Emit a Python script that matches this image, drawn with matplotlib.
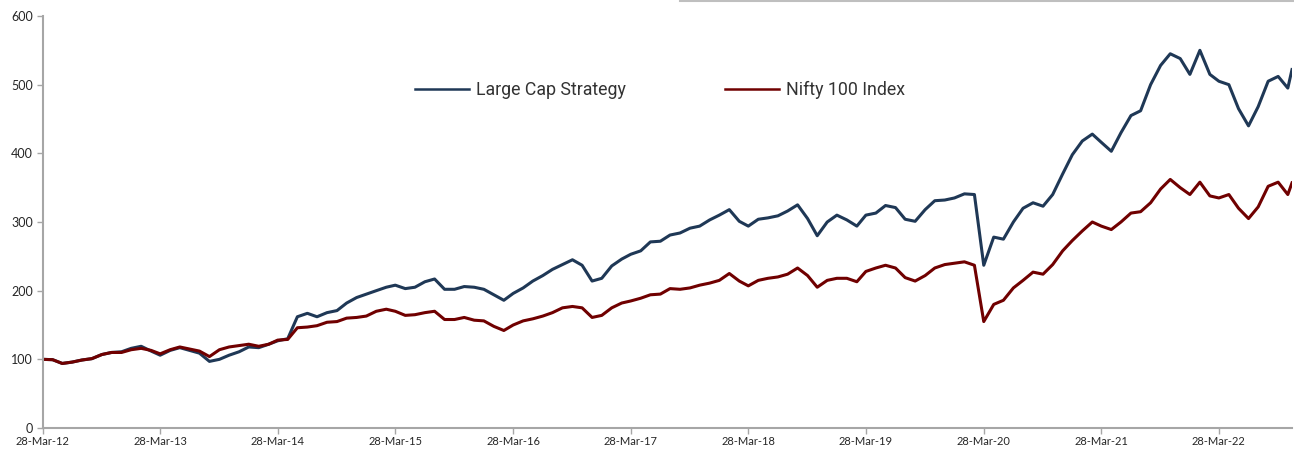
import matplotlib
matplotlib.use('Agg')
import matplotlib.pyplot as plt
import matplotlib.dates as mdates
import pandas as pd
from matplotlib.lines import Line2D

# monthly readings (28th of each month) from 28-Mar-12, last point ~10-Nov-22
start = '2012-03-28'
n_months = 128
last_date = '2022-11-10'

large_cap = [100, 99.5, 94, 96, 99, 101, 107, 110, 111, 116, 119, 112,
             106, 113, 117, 113, 109, 97, 100, 106, 111, 118, 117, 122,
             127, 130, 162, 167, 162, 168, 171, 182, 190, 195, 200, 205,
             208, 203, 205, 213, 217, 202, 202, 206, 205, 202, 194, 186,
             196, 204, 214, 222, 231, 238, 245, 237, 214, 218, 236, 246,
             253, 258, 271, 272, 281, 284, 291, 294, 303, 310, 318, 301,
             294, 304, 306, 309, 316, 325, 305, 280, 300, 310, 303, 294,
             310, 313, 324, 321, 304, 301, 318, 331, 332, 335, 341, 340,
             237, 278, 275, 300, 320, 328, 323, 340, 370, 398, 418, 428,
             416, 403, 430, 455, 462, 500, 528, 545, 538, 515, 550, 515,
             505, 500, 465, 440, 468, 505, 512, 495, 522]

nifty100 = [100, 99.5, 94, 96, 99, 101, 107, 110, 110, 114, 116, 113,
            108, 114, 118, 115, 112, 104, 114, 118, 120, 122, 119, 122,
            128, 129, 146, 147, 149, 154, 155, 160, 161, 163, 170, 173,
            170, 164, 165, 168, 170, 158, 158, 161, 157, 156, 148, 142,
            150, 156, 159, 163, 168, 175, 177, 175, 161, 164, 175, 182,
            185, 189, 194, 195, 203, 202, 204, 208, 211, 215, 225, 214,
            207, 215, 218, 220, 224, 233, 222, 205, 215, 218, 218, 213,
            228, 233, 237, 233, 219, 214, 222, 233, 238, 240, 242, 237,
            155, 180, 186, 204, 215, 227, 224, 238, 258, 273, 287, 300,
            294, 289, 300, 313, 315, 328, 348, 362, 350, 340, 358, 338,
            335, 340, 320, 305, 322, 352, 358, 340, 357]

dates = list(pd.date_range(start, periods=n_months, freq=pd.DateOffset(months=1)))
dates.append(pd.Timestamp(last_date))

tick_dates = pd.date_range(start, periods=11, freq=pd.DateOffset(years=1))

blue = '#1F3856'
red = '#700000'
grey = '#A6A6A6'

fig = plt.figure(figsize=(12.94, 4.5), dpi=100)
ax = fig.add_axes([42.6 / 1294, 22 / 450, (1292 - 42.6) / 1294, (428 - 16) / 450])

ax.plot(dates, large_cap, color=blue, lw=2.2, label='Large Cap Strategy')
ax.plot(dates, nifty100, color=red, lw=2.2, label='Nifty 100 Index')

ax.set_xlim(dates[0], dates[-1])
ax.set_ylim(0, 600)
ax.set_yticks(range(0, 601, 100))
ax.set_xticks(tick_dates)
ax.xaxis.set_major_formatter(mdates.DateFormatter('%d-%b-%y'))

for s in ['top', 'right']:
    ax.spines[s].set_visible(False)
for s in ['left', 'bottom']:
    ax.spines[s].set_color(grey)
    ax.spines[s].set_linewidth(1.5)

ax.tick_params(axis='y', length=4, width=1, color=grey, labelsize=9, pad=3, labelcolor='#262626')
ax.tick_params(axis='x', length=4, width=1, color=grey, labelsize=8, pad=2, labelcolor='#262626')
for lab in ax.get_xticklabels() + ax.get_yticklabels():
    lab.set_family('Lato')

leg = fig.legend(loc='center', bbox_to_anchor=(660 / 1294, 1 - 90 / 450), ncol=2,
                 frameon=False, handlelength=3.0, handletextpad=0.4, columnspacing=5.6,
                 prop={'family': 'Roboto', 'size': 12.8})
for t in leg.get_texts():
    t.set_color('#333333')
for h in leg.get_lines():
    h.set_linewidth(1.8)

# thin grey rule along the top edge
fig.add_artist(Line2D([680 / 1294, 1], [1 - 1 / 450, 1 - 1 / 450], transform=fig.transFigure,
                      color='#BFBFBF', lw=1.5))

fig.savefig('out.png', dpi=100)
